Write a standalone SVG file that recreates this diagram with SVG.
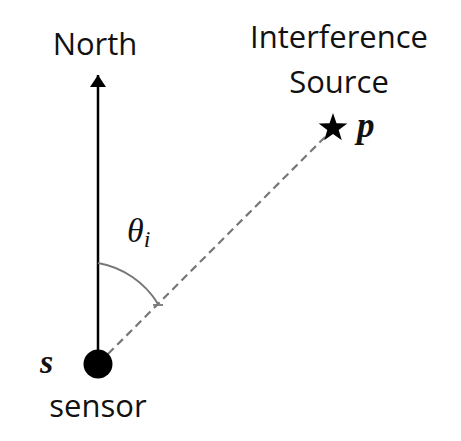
<svg xmlns="http://www.w3.org/2000/svg" width="461" height="441" viewBox="0 0 461 441">
<style>
.lbl{font-family:"Open Sans","Liberation Sans",sans-serif;font-size:31px;fill:#111;text-anchor:middle}
.math{font-family:"Liberation Serif","DejaVu Serif",serif;font-style:italic;fill:#111}
</style>
<defs>
<marker id="ah" viewBox="0 0 12 16" refX="12" refY="8" markerWidth="12" markerHeight="16" markerUnits="userSpaceOnUse" orient="auto">
<path d="M0,0 L12,8 L0,16 Z" fill="#000"/>
</marker>
</defs>
<rect width="461" height="441" fill="#fff"/>
<g id="connectors">
<line x1="98" y1="352" x2="98" y2="75" stroke="#000" stroke-width="2.5" marker-end="url(#ah)"/>
<line x1="108" y1="354" x2="327" y2="135" stroke="#777" stroke-width="2.2" stroke-dasharray="8,5"/>
<path d="M98,263 A88,88 0 0 1 158,304" fill="none" stroke="#777" stroke-width="2"/>
<line x1="153" y1="305" x2="163" y2="305" stroke="#777" stroke-width="1.8"/>
</g>
<g id="north">
<text class="lbl" x="95" y="55">North</text>
</g>
<g id="source">
<text class="lbl" x="339" y="48">Interference</text>
<text class="lbl" x="339" y="93">Source</text>
<polygon points="333,113 336.5,123.2 347.3,123.4 338.7,129.9 341.8,140.2 333,134 324.2,140.2 327.3,129.9 318.7,123.4 329.5,123.2" fill="#000"/>
<text class="math" x="357" y="137" font-size="35" font-weight="bold">p</text>
</g>
<g id="angle">
<text class="math" x="127" y="242" font-size="34">θ<tspan font-size="24" dy="5">i</tspan></text>
</g>
<g id="sensor">
<circle cx="98" cy="364" r="14.5" fill="#000"/>
<text class="math" x="40" y="373" font-size="34" font-weight="bold">s</text>
<text class="lbl" x="98" y="417">sensor</text>
</g>
</svg>
